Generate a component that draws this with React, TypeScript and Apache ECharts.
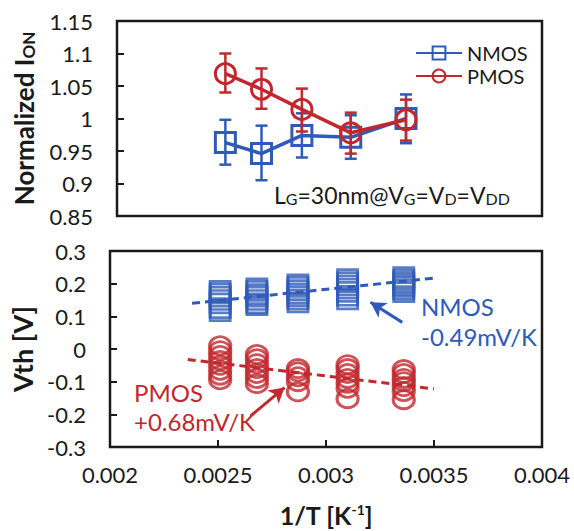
import React, { useEffect, useRef } from "react";
import * as echarts from "echarts";

// ---------- data ----------
const invT = [0.00251, 0.00268, 0.00287, 0.0031, 0.00336];

const nmosIon = [0.963, 0.946, 0.974, 0.971, 1.0];
const nmosIonLow = [0.929, 0.905, 0.94, 0.938, 0.962];
const nmosIonHigh = [0.998, 0.989, 1.008, 1.005, 1.037];

const pmosIon = [1.069, 1.045, 1.014, 0.978, 0.998];
const pmosIonLow = [1.04, 1.015, 0.98, 0.946, 0.966];
const pmosIonHigh = [1.1, 1.077, 1.046, 1.009, 1.029];

const nmosVth = [
  [0.178, 0.17, 0.16, 0.15, 0.14, 0.125, 0.116],
  [0.186, 0.178, 0.168, 0.16, 0.15, 0.14, 0.134],
  [0.198, 0.19, 0.18, 0.17, 0.162, 0.152, 0.143],
  [0.214, 0.205, 0.195, 0.185, 0.175, 0.163, 0.152],
  [0.22, 0.212, 0.205, 0.197, 0.19, 0.182, 0.174],
];
const pmosVth = [
  [0.01, -0.005, -0.02, -0.035, -0.05, -0.065, -0.08, -0.094],
  [-0.017, -0.03, -0.045, -0.06, -0.075, -0.09, -0.106],
  [-0.06, -0.07, -0.085, -0.1, -0.131],
  [-0.048, -0.06, -0.075, -0.09, -0.105, -0.12, -0.152],
  [-0.063, -0.075, -0.09, -0.1, -0.115, -0.13, -0.155],
];

const nmosFitX = [0.00238, 0.0035];
const nmosFitY = [0.14, 0.217];
const pmosFitX = [0.00236, 0.0035];
const pmosFitY = [-0.032, -0.122];

// arrow annotations [tailX, tailY, headX, headY] in data units
const nmosArrow = [0.003353, 0.0815, 0.003206, 0.143];
const pmosArrow = [0.002651, -0.205, 0.002808, -0.118];

const xTicks = { min: 0.002, max: 0.004, interval: 0.0005 };
const ionTicks = { min: 0.85, max: 1.15, interval: 0.05 };
const vthTicks = { min: -0.3, max: 0.3, interval: 0.1 };

// ---------- styles ----------
const BLUE = "#2E5BB8";
const RED = "#C0282E";
const INK = "#1a1a1a";
const FONT = "Lato, 'Open Sans', sans-serif";

function errorSeries(name: string, low: number[], high: number[], color: string, z: number) {
  return {
    name,
    type: "custom",
    xAxisIndex: 0,
    yAxisIndex: 0,
    z,
    silent: true,
    encode: { x: 0, y: [1, 2] },
    data: invT.map((x, i) => [x, low[i], high[i]]),
    renderItem: (params: any, api: any) => {
      const x = api.value(0);
      const lo = api.coord([x, api.value(1)]);
      const hi = api.coord([x, api.value(2)]);
      const cap = 6;
      const st = { stroke: color, lineWidth: 2.5 };
      return {
        type: "group",
        children: [
          { type: "line", shape: { x1: lo[0], y1: lo[1], x2: hi[0], y2: hi[1] }, style: st },
          { type: "line", shape: { x1: lo[0] - cap, y1: lo[1], x2: lo[0] + cap, y2: lo[1] }, style: st },
          { type: "line", shape: { x1: hi[0] - cap, y1: hi[1], x2: hi[0] + cap, y2: hi[1] }, style: st },
        ],
      };
    },
  };
}

function stackData(groups: number[][]) {
  const out: number[][] = [];
  groups.forEach((g, i) => g.forEach((v) => out.push([invT[i], v])));
  return out;
}

function arrowMark(a: number[], color: string) {
  return {
    silent: true,
    symbolSize: [13, 15],
    label: { show: false },
    lineStyle: { color, width: 3, type: "solid" },
    data: [[{ coord: [a[0], a[1]], symbol: "none" }, { coord: [a[2], a[3]], symbol: "arrow" }]],
  };
}

const tickLabel = { fontFamily: FONT, fontSize: 22, color: INK };
const inTick = { show: true, inside: true, length: 7, lineStyle: { color: INK, width: 2 } };

export default function App() {
  const ref = useRef<HTMLDivElement>(null);
  useEffect(() => {
    if (!ref.current) return;
    const chart = echarts.init(ref.current, undefined, { renderer: "svg" });
    const option: any = {
      animation: false,
      backgroundColor: "#ffffff",
      textStyle: { fontFamily: FONT },
      grid: [
        { left: 110, top: 21, width: 432, height: 195, show: true, borderColor: INK, borderWidth: 2.5, backgroundColor: "transparent" },
        { left: 110, top: 251, width: 432, height: 196, show: true, borderColor: INK, borderWidth: 2.5, backgroundColor: "transparent" },
      ],
      legend: {
        data: ["NMOS", "PMOS"],
        orient: "vertical",
        left: 410,
        top: 38,
        itemGap: 3,
        itemWidth: 46,
        itemHeight: 16,
        textStyle: { fontFamily: FONT, fontSize: 20, lineHeight: 20, color: INK },
      },
      xAxis: [
        {
          gridIndex: 0, type: "value", ...xTicks,
          axisLine: { show: false, onZero: false }, axisTick: { show: false }, axisLabel: { show: false }, splitLine: { show: false },
        },
        {
          gridIndex: 1, type: "value", ...xTicks,
          axisLine: { show: false, onZero: false },
          axisTick: inTick,
          axisLabel: { ...tickLabel, margin: 16 },
          splitLine: { show: false },
          name: "{m|1/T [K}{sup|-1}{m|]}",
          nameLocation: "middle",
          nameGap: 55,
          nameTextStyle: {
            rich: {
              m: { fontFamily: FONT, fontSize: 25, fontWeight: "bold", color: INK, lineHeight: 25, verticalAlign: "bottom" },
              sup: { fontFamily: FONT, fontSize: 14, fontWeight: "bold", color: INK, lineHeight: 14, padding: [0, 0, 12, 0], verticalAlign: "top" },
            },
          },
        },
      ],
      yAxis: [
        {
          gridIndex: 0, type: "value", ...ionTicks,
          axisLine: { show: false, onZero: false },
          axisTick: inTick,
          axisLabel: { ...tickLabel, margin: 24 },
          splitLine: { show: false },
          name: "{m|Normalized I}{s|ON}",
          nameLocation: "middle",
          nameRotate: 90,
          nameGap: 80,
          nameTextStyle: {
            rich: {
              m: { fontFamily: FONT, fontSize: 26, fontWeight: "bold", color: INK, lineHeight: 26, verticalAlign: "top" },
              s: { fontFamily: FONT, fontSize: 17, fontWeight: "bold", color: INK, lineHeight: 17, padding: [12, 0, 0, 0], verticalAlign: "bottom" },
            },
          },
        },
        {
          gridIndex: 1, type: "value", ...vthTicks,
          axisLine: { show: false, onZero: false },
          axisTick: inTick,
          axisLabel: { ...tickLabel, margin: 24 },
          splitLine: { show: false },
          name: "Vth [V]",
          nameLocation: "middle",
          nameRotate: 90,
          nameGap: 74,
          nameTextStyle: { fontFamily: FONT, fontSize: 27, fontWeight: "bold", color: INK },
        },
      ],
      series: [
        errorSeries("NMOS err", nmosIonLow, nmosIonHigh, BLUE, 2),
        {
          name: "NMOS",
          type: "line",
          xAxisIndex: 0, yAxisIndex: 0, z: 3,
          data: invT.map((x, i) => [x, nmosIon[i]]),
          symbol: "rect",
          symbolSize: 20,
          lineStyle: { color: BLUE, width: 3.5 },
          itemStyle: { color: "rgba(255,255,255,0)", borderColor: BLUE, borderWidth: 3 },
        },
        errorSeries("PMOS err", pmosIonLow, pmosIonHigh, RED, 4),
        {
          name: "PMOS",
          type: "line",
          xAxisIndex: 0, yAxisIndex: 0, z: 5,
          data: invT.map((x, i) => [x, pmosIon[i]]),
          symbol: "circle",
          symbolSize: 20,
          lineStyle: { color: RED, width: 3.5 },
          itemStyle: { color: "rgba(255,255,255,0)", borderColor: RED, borderWidth: 3 },
        },
        {
          name: "NMOS Vth",
          type: "scatter",
          xAxisIndex: 1, yAxisIndex: 1, z: 3,
          data: stackData(nmosVth),
          symbol: "rect",
          symbolSize: [20, 19],
          itemStyle: { color: "rgba(255,255,255,0)", borderColor: BLUE, borderWidth: 2.8 },
        },
        {
          name: "PMOS Vth",
          type: "scatter",
          xAxisIndex: 1, yAxisIndex: 1, z: 3,
          data: stackData(pmosVth),
          symbol: "circle",
          symbolSize: [21, 18],
          itemStyle: { color: "rgba(255,255,255,0)", borderColor: RED, borderWidth: 3 },
        },
        {
          name: "NMOS fit",
          type: "line",
          xAxisIndex: 1, yAxisIndex: 1, z: 4,
          data: nmosFitX.map((x, i) => [x, nmosFitY[i]]),
          symbol: "none",
          lineStyle: { color: BLUE, width: 3, type: [8, 5] },
          markLine: arrowMark(nmosArrow, BLUE),
        },
        {
          name: "PMOS fit",
          type: "line",
          xAxisIndex: 1, yAxisIndex: 1, z: 4,
          data: pmosFitX.map((x, i) => [x, pmosFitY[i]]),
          symbol: "none",
          lineStyle: { color: RED, width: 3, type: [8, 5] },
          markLine: arrowMark(pmosArrow, RED),
        },
      ],
      graphic: [
        {
          type: "text", left: 274, top: 178, z: 10,
          style: {
            text: "{m|L}{s|G}{m|=30nm@V}{s|G}{m|=V}{s|D}{m|=V}{s|DD}",
            rich: {
              m: { fontFamily: FONT, fontSize: 23, fill: INK, lineHeight: 23, verticalAlign: "top" },
              s: { fontFamily: FONT, fontSize: 16, fill: INK, lineHeight: 16, padding: [12, 0, 0, 0], verticalAlign: "bottom" },
            },
          },
        },
        { type: "text", left: 421, top: 294, z: 10, style: { text: "NMOS", fontFamily: FONT, fontSize: 24, fill: BLUE } },
        { type: "text", left: 421, top: 324, z: 10, style: { text: "-0.49mV/K", fontFamily: FONT, fontSize: 24, fill: BLUE } },
        { type: "text", left: 134, top: 380, z: 10, style: { text: "PMOS", fontFamily: FONT, fontSize: 24, fill: RED } },
        { type: "text", left: 134, top: 409, z: 10, style: { text: "+0.68mV/K", fontFamily: FONT, fontSize: 24, fill: RED } },
      ],
    };
    chart.setOption(option);
    return () => chart.dispose();
  }, []);
  return <div ref={ref} style={{ position: "fixed", left: 0, top: 0, width: 574, height: 531 }} />;
}
